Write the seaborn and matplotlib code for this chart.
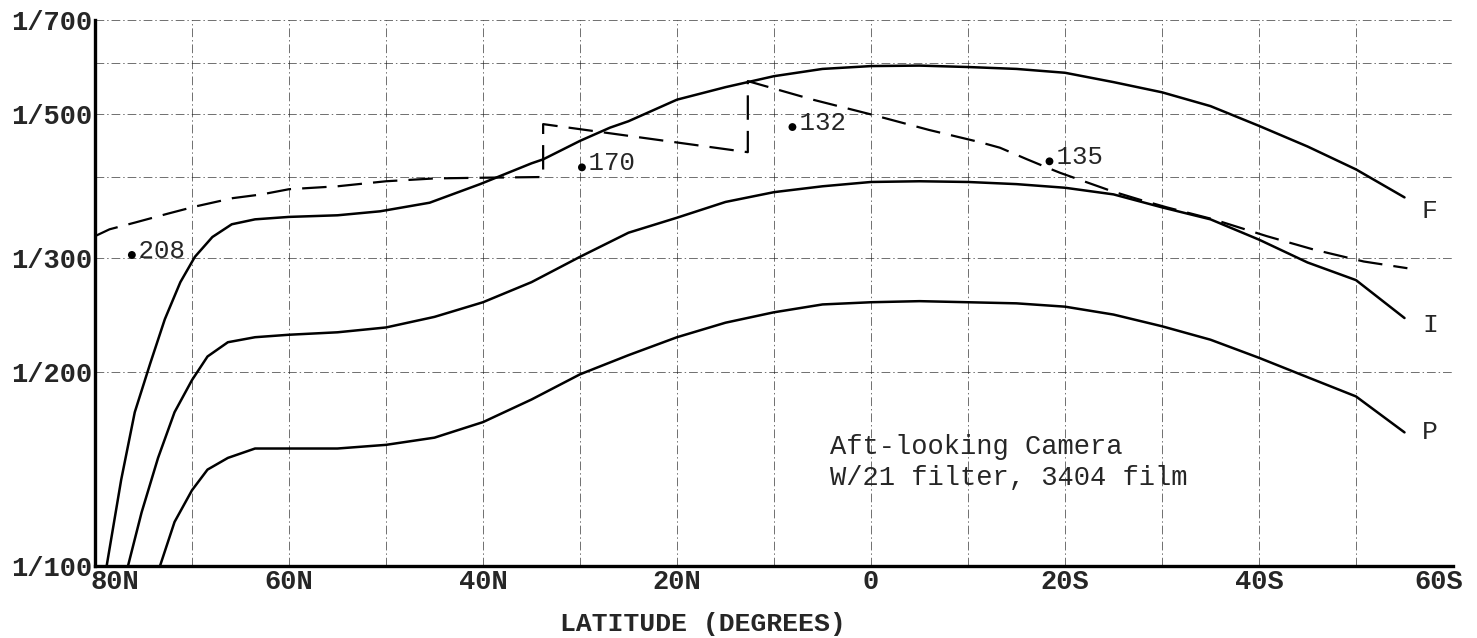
import numpy as np
import pandas as pd
import matplotlib
matplotlib.use("Agg")
import matplotlib.pyplot as plt
import matplotlib.transforms as mtransforms
import seaborn as sns
from matplotlib.ticker import NullFormatter

# ---- data (latitude: +N / -S ; value: shutter-speed denominator, 1/x) ----
f_lat = [78.8, 77.3, 75.9, 74.3, 72.8, 71.2, 69.7, 67.9, 65.9, 63.5, 60, 55, 50.6, 45.5, 40.3,
         35, 33.8, 30, 26.9, 25, 20, 15, 10, 5, 0, -5, -10, -15, -20, -25, -30, -35, -40, -45,
         -50, -55]
f_val = [100, 136, 173, 206, 241, 275, 301, 323, 338, 344, 347, 349, 354, 365, 390,
         420, 426, 455, 477, 488, 527, 551, 573, 588, 594, 595, 592, 588, 580, 561, 541, 515,
         480, 446, 411, 372]

i_lat = [76.6, 75.2, 73.5, 71.8, 70.0, 68.4, 66.3, 63.5, 60, 55, 50, 45, 40, 35, 30, 25, 20,
         15, 10, 5, 0, -5, -10, -15, -20, -25, -30, -35, -40, -45, -50, -55]
i_val = [100, 121, 147, 173, 194, 211, 222, 226, 228, 230, 234, 243, 256, 275, 301, 328, 346,
         366, 379, 387, 393, 394, 393, 390, 385, 376, 359, 344, 320, 295, 277, 242]

p_lat = [73.3, 71.8, 70.0, 68.4, 66.3, 63.5, 60, 55, 50, 45, 40, 35, 30, 25, 20, 15, 10, 5, 0,
         -5, -10, -15, -20, -25, -30, -35, -40, -45, -50, -55]
p_val = [100, 117, 131, 141, 147, 152, 152, 152, 154, 158, 167, 181, 198, 212, 226, 238, 247,
         254, 256, 257, 256, 255, 252, 245, 235, 224, 210, 196, 183, 161]

d_lat = [80, 78.5, 75.9, 72.5, 69.7, 65.8, 62.8, 60, 55, 50, 45, 40, 33.8, 33.8, 12.7, 12.7, 6,
         0, -6, -11.2, -13.3, -16.1, -18.1, -19.5, -24.9, -27.7, -30.5, -35.3, -40.8, -45.6,
         -50.8, -55.3]
d_val = [324, 332, 340, 351, 360, 371, 376, 383, 387, 394, 398, 399, 400, 483, 437, 563, 527,
         500, 473, 453, 444, 426, 414, 406, 380, 369, 359, 344, 324, 309, 296, 289]

pt_lat = [76.2, 29.8, 8.1, -18.4]
pt_val = [303, 414, 478, 423]
pt_lbl = [".208", ".170", ".132", ".135"]

x_ticks = [80, 60, 40, 20, 0, -20, -40, -60]
x_labels = ["80N", "60N", "40N", "20N", "0", "20S", "40S", "60S"]
y_ticks = [100, 200, 300, 500, 700]
y_labels = ["1/100", "1/200", "1/300", "1/500", "1/700"]

# ---- style ----
sns.set_style("white")
plt.rcParams["font.family"] = ["Liberation Mono", "DejaVu Sans Mono"]

fig = plt.figure(figsize=(14.77, 6.38), dpi=100)
ax = fig.add_axes([95 / 1477, 1 - 566 / 638, 1358 / 1477, 546 / 638])

ax.set_yscale("log")
ax.set_xlim(80, -60)
ax.set_ylim(100, 700)

ax.set_xticks(x_ticks)
ax.set_xticklabels(x_labels)
ax.set_xticks(list(range(70, -60, -20)), minor=True)
ax.set_yticks(y_ticks)
ax.set_yticklabels(y_labels)
ax.set_yticks([400, 600], minor=True)
ax.yaxis.set_minor_formatter(NullFormatter())
ax.xaxis.set_minor_formatter(NullFormatter())

grid_ls = (0, (9, 3, 1.5, 3))
ax.grid(True, which="both", color="#222222", lw=0.7, ls=grid_ls, alpha=0.65)
ax.set_axisbelow(True)

for curve_x, curve_y in [(f_lat, f_val), (i_lat, i_val), (p_lat, p_val)]:
    sns.lineplot(x=curve_x, y=curve_y, sort=False, estimator=None, color="black", lw=1.8, ax=ax)
    ax.lines[-1].set_solid_joinstyle("round")

sns.lineplot(x=d_lat, y=d_val, sort=False, estimator=None, color="black", lw=1.6, ax=ax)
ax.lines[-1].set_dashes((11, 5))

sns.scatterplot(x=pt_lat, y=pt_val, color="black", s=32, edgecolor="none", ax=ax, zorder=5)
for lx, ly, lab in zip(pt_lat, pt_val, pt_lbl):
    ax.annotate(lab, (lx, ly), xytext=(-5.8, -2), textcoords="offset points",
                ha="left", va="baseline", fontsize=18.5)

ax.text(-56.8, 354, "F", fontsize=19, ha="left", va="center")
ax.text(-56.8, 236, "I", fontsize=19, ha="left", va="center")
ax.text(-56.8, 161, "P", fontsize=19, ha="left", va="center")

ax.text(4.2, 144.5, "Aft-looking Camera\nW/21 filter, 3404 film", fontsize=19.5,
        ha="left", va="center", linespacing=1.25)

ax.set_xlabel("LATITUDE (DEGREES)", fontsize=19, fontweight="bold")
ax.xaxis.set_label_coords((703 - 95) / 1358, -0.085)
ax.set_ylabel("")

ax.tick_params(axis="both", which="both", length=0, labelsize=19.5, pad=2)
for t in ax.get_xticklabels() + ax.get_yticklabels():
    t.set_fontweight("bold")

# nudge the end x labels inward (first one clears "1/100", last one stays in the figure)
xl = ax.get_xticklabels()
xl[0].set_transform(xl[0].get_transform() +
                    mtransforms.ScaledTranslation(0.20, 0, fig.dpi_scale_trans))
xl[-1].set_transform(xl[-1].get_transform() +
                     mtransforms.ScaledTranslation(-0.14, 0, fig.dpi_scale_trans))

for s in ["top", "right"]:
    ax.spines[s].set_visible(False)
for s in ["left", "bottom"]:
    ax.spines[s].set_linewidth(2.4)
    ax.spines[s].set_color("black")

fig.savefig("out.png", dpi=100)
